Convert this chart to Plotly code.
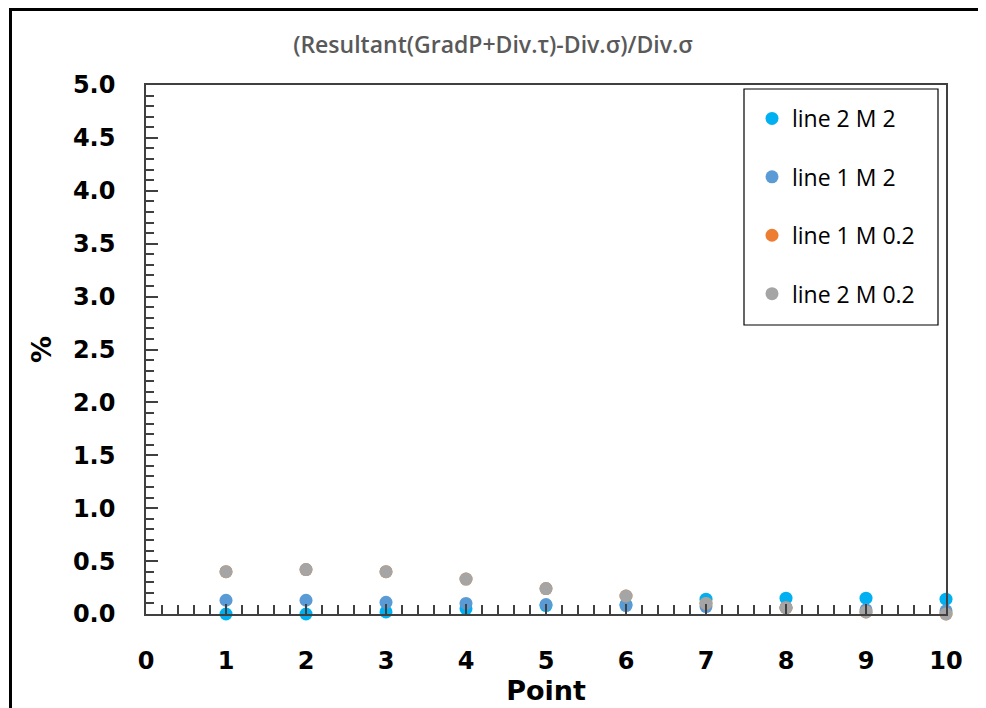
import plotly.graph_objects as go

# ---- data ----
points = [1, 2, 3, 4, 5, 6, 7, 8, 9, 10]
line2_M2 = [0.00, 0.00, 0.02, 0.05, 0.08, 0.09, 0.14, 0.15, 0.15, 0.14]
line1_M2 = [0.13, 0.13, 0.11, 0.10, 0.09, 0.08, 0.07, 0.06, 0.04, 0.03]
line1_M02 = [0.40, 0.42, 0.40, 0.33, 0.24, 0.17, 0.10, 0.06, 0.02, 0.00]
line2_M02 = [0.40, 0.42, 0.40, 0.33, 0.24, 0.17, 0.10, 0.06, 0.02, 0.00]

series_names = ["line 2 M 2", "line 1 M 2", "line 1 M 0.2", "line 2 M 0.2"]
series_values = [line2_M2, line1_M2, line1_M02, line2_M02]
series_colors = ["#00B0F0", "#5B9BD5", "#ED7D31", "#A5A5A5"]

title_text = "(Resultant(GradP+Div.\u03c4)-Div.\u03c3)/Div.\u03c3"
x_title = "Point"
y_title = "%"

# page body margin offsets the figure by 8px; size the figure to fit the window
OFF = 8
W, H = 986 - OFF, 708 - OFF
# target plot area in window pixels: left 146, right 946, top 85, bottom 614
L, T = 146 - OFF, 85 - OFF
R = W - (946 - OFF)
B = H - (614 - OFF)
pw, ph = W - L - R, H - T - B

def px2x(px):
    # window px -> paper x
    return (px - OFF - L) / pw

def py2y(py):
    # window px -> paper y
    return (H - B - (py - OFF)) / ph

fig = go.Figure()
for i, (name, vals, col) in enumerate(zip(series_names, series_values, series_colors)):
    fig.add_trace(go.Scatter(
        x=points, y=vals, name=name, mode="markers",
        marker=dict(color=col, size=13, line=dict(width=0)),
        cliponaxis=False, legendgroup=f"g{i}",
    ))

axis_col = "#404040"
tickfont = dict(family="DejaVu Sans", size=24, color="black", weight="bold")

fig.update_layout(
    width=W, height=H,
    margin=dict(l=L, r=R, t=T, b=B, autoexpand=False),
    paper_bgcolor="white", plot_bgcolor="white",
    title=dict(text=title_text, x=(493 - OFF) / W, xref="container", xanchor="center",
               y=1 - (45 - OFF) / H, yref="container", yanchor="middle",
               font=dict(family="Open Sans", size=23, color="#595959", weight=600)),
    showlegend=True,
    legend=dict(
        x=px2x(752), y=py2y(97), xanchor="left", yanchor="top",
        bgcolor="rgba(0,0,0,0)", borderwidth=0,
        font=dict(family="Open Sans", size=23, color="black"),
        traceorder="grouped", tracegroupgap=25.5,
    ),
    xaxis=dict(
        range=[0, 10], dtick=1, tick0=0, autorange=False,
        showgrid=False, zeroline=False,
        showline=True, linecolor=axis_col, linewidth=1.5, mirror=True,
        ticks="inside", ticklen=10, tickcolor=axis_col, tickwidth=1.5,
        minor=dict(dtick=0.2, ticks="inside", ticklen=9, tickcolor=axis_col, tickwidth=1.5, showgrid=False),
        tickfont=tickfont, ticklabelstandoff=24,
        title=dict(text=x_title, font=dict(family="DejaVu Sans", size=27, color="black", weight="bold"), standoff=1),
    ),
    yaxis=dict(
        range=[0, 5], dtick=0.5, tick0=0, autorange=False, tickformat=".1f",
        showgrid=False, zeroline=False,
        showline=True, linecolor=axis_col, linewidth=1.5, mirror=True,
        ticks="inside", ticklen=12, tickcolor=axis_col, tickwidth=1.5,
        minor=dict(dtick=0.1, ticks="inside", ticklen=8, tickcolor=axis_col, tickwidth=1.5, showgrid=False),
        tickfont=tickfont, ticklabelstandoff=24,
        title=dict(text=y_title, font=dict(family="DejaVu Sans", size=27, color="black", weight="bold"), standoff=13),
    ),
    shapes=[
        # legend box
        dict(type="rect", xref="paper", yref="paper",
             x0=px2x(744), x1=px2x(938), y0=py2y(325), y1=py2y(89),
             line=dict(color="black", width=1.2), fillcolor="rgba(0,0,0,0)", layer="below"),
        # outer chart frame (left and top)
        dict(type="line", xref="paper", yref="paper",
             x0=px2x(10.5), x1=px2x(10.5), y0=py2y(9.5), y1=py2y(720),
             line=dict(color="black", width=3)),
        dict(type="line", xref="paper", yref="paper",
             x0=px2x(9), x1=px2x(983), y0=py2y(9.5), y1=py2y(9.5),
             line=dict(color="black", width=3)),
    ],
)

fig.write_html("out.html")
